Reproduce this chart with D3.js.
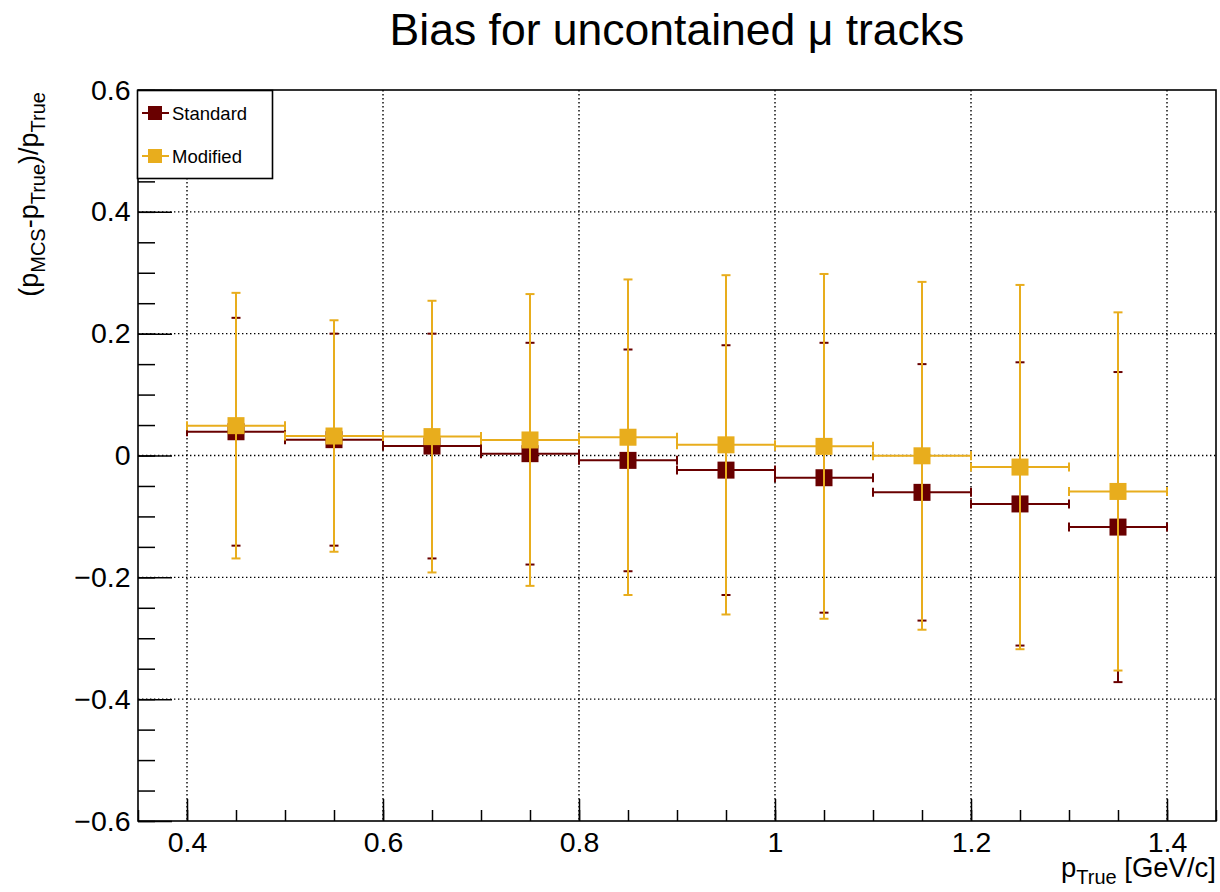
<!DOCTYPE html>
<html>
<head>
<meta charset="utf-8">
<script src="https://cdn.jsdelivr.net/npm/d3@7"></script>
<style>
  html, body { margin: 0; padding: 0; background: #fff; }
  svg { display: block; font-family: "Liberation Sans", Arial, Helvetica, sans-serif; }
</style>
</head>
<body>
<svg id="chart" width="1220" height="892"></svg>
<script>
// Momentum bins (GeV/c)
const binEdges = [0.4, 0.5, 0.6, 0.7, 0.8, 0.9, 1.0, 1.1, 1.2, 1.3, 1.4];

// Mean relative bias and its spread per bin
const standardBias = [0.039, 0.026, 0.0155, 0.003, -0.008, -0.024, -0.0365, -0.0605, -0.0795, -0.1175];
const standardErr  = [0.187, 0.174, 0.1845, 0.182, 0.182, 0.205, 0.2215, 0.2105, 0.2325, 0.2545];
const modifiedBias = [0.049, 0.032, 0.031, 0.0255, 0.030, 0.0175, 0.015, -0.0005, -0.019, -0.059];
const modifiedErr  = [0.218, 0.190, 0.223, 0.2395, 0.259, 0.2785, 0.283, 0.2855, 0.299, 0.294];

const seriesNames = ["Standard", "Modified"];

// Axis ticks and their labels
const xMajorTicks = [0.4, 0.6, 0.8, 1.0, 1.2, 1.4];
const xTickLabels = ["0.4", "0.6", "0.8", "1", "1.2", "1.4"];
const yMajorTicks = [-0.6, -0.4, -0.2, 0, 0.2, 0.4, 0.6];
const yTickLabels = ["\u22120.6", "\u22120.4", "\u22120.2", "0", "0.2", "0.4", "0.6"];

const colors = { Standard: "#690000", Modified: "#e8ad1d" };

const svg = d3.select("#chart");
const frame = { left: 138, right: 1216, top: 90, bottom: 821 };

const x = d3.scaleLinear().domain([0.35, 1.45]).range([frame.left, frame.right]);
const y = d3.scaleLinear().domain([-0.6, 0.6]).range([frame.bottom, frame.top]);

const xMinor = d3.range(0.35, 1.4501, 0.05).map(v => +v.toFixed(2));
const yMinor = d3.range(-0.6, 0.6001, 0.05).map(v => +v.toFixed(2));

// Title
svg.append("text")
  .attr("x", (frame.left + frame.right) / 2)
  .attr("y", 45)
  .attr("text-anchor", "middle")
  .attr("font-size", 44.5)
  .text("Bias for uncontained \u03bc tracks");

// Dotted grid at major ticks
const grid = svg.append("g").attr("stroke", "#000").attr("stroke-width", 1.4)
  .attr("stroke-dasharray", "1.4,2.6");
grid.selectAll(".gx").data(xMajorTicks).join("line")
  .attr("x1", d => x(d)).attr("x2", d => x(d))
  .attr("y1", frame.top).attr("y2", frame.bottom);
grid.selectAll(".gy").data(yMajorTicks.filter(d => d > -0.6 && d < 0.6)).join("line")
  .attr("x1", frame.left).attr("x2", frame.right)
  .attr("y1", d => y(d)).attr("y2", d => y(d));

// Axes: ticks point inward, minor ticks shorter
const axStyle = g => {
  g.select(".domain").remove();
  g.selectAll(".tick line").attr("stroke", "#000").attr("stroke-width", 1.5);
  g.selectAll(".tick text").attr("fill", "#000").attr("font-size", 28.5)
    .attr("font-family", "'Liberation Sans', Arial, Helvetica, sans-serif");
};

svg.append("g").attr("transform", `translate(0,${frame.bottom})`)
  .call(d3.axisBottom(x).tickValues(xMinor.filter(v => v >= 0.35 && v <= 1.45)).tickSize(-11).tickFormat(""))
  .call(axStyle);
svg.append("g").attr("transform", `translate(0,${frame.bottom})`)
  .call(d3.axisBottom(x).tickValues(xMajorTicks).tickSize(-22).tickPadding(11)
    .tickFormat((d, i) => xTickLabels[i]))
  .call(axStyle);

svg.append("g").attr("transform", `translate(${frame.left},0)`)
  .call(d3.axisLeft(y).tickValues(yMinor).tickSize(-17).tickFormat(""))
  .call(axStyle);
svg.append("g").attr("transform", `translate(${frame.left},0)`)
  .call(d3.axisLeft(y).tickValues(yMajorTicks).tickSize(-34).tickPadding(7.5)
    .tickFormat((d, i) => yTickLabels[i]))
  .call(axStyle);

// Frame
svg.append("rect")
  .attr("x", frame.left).attr("y", frame.top)
  .attr("width", frame.right - frame.left).attr("height", frame.bottom - frame.top)
  .attr("fill", "none").attr("stroke", "#000").attr("stroke-width", 1.6);

// Axis titles
const xTitle = svg.append("text")
  .attr("x", frame.right).attr("y", 877)
  .attr("text-anchor", "end").attr("font-size", 27.5);
xTitle.append("tspan").text("p");
xTitle.append("tspan").attr("font-size", 20).attr("dy", 7).text("True");
xTitle.append("tspan").attr("dy", -7).text(" [GeV/c]");

const yTitle = svg.append("text")
  .attr("transform", `translate(38,${frame.top + 2}) rotate(-90)`)
  .attr("text-anchor", "end").attr("font-size", 27);
yTitle.append("tspan").text("(p");
yTitle.append("tspan").attr("font-size", 20).attr("dy", 7).text("MCS");
yTitle.append("tspan").attr("dy", -7).text("-p");
yTitle.append("tspan").attr("font-size", 20).attr("dy", 7).text("True");
yTitle.append("tspan").attr("dy", -7).text(")/p");
yTitle.append("tspan").attr("font-size", 20).attr("dy", 7).text("True");

// Data series: horizontal bin-width bars, vertical error bars with caps, square markers
const seriesData = [
  { name: "Standard", bias: standardBias, err: standardErr },
  { name: "Modified", bias: modifiedBias, err: modifiedErr }
];

const markerSize = 17;
const capHalf = 4.5;

seriesData.forEach(s => {
  const c = colors[s.name];
  const pts = s.bias.map((v, i) => ({
    lo: binEdges[i], hi: binEdges[i + 1], xc: (binEdges[i] + binEdges[i + 1]) / 2, v, e: s.err[i]
  }));
  const g = svg.append("g").attr("stroke", c).attr("stroke-width", 2).attr("fill", "none");
  pts.forEach(p => {
    const cx = x(p.xc), cy = y(p.v);
    // horizontal bar across the bin
    g.append("line").attr("x1", x(p.lo)).attr("x2", x(p.hi)).attr("y1", cy).attr("y2", cy);
    g.append("line").attr("x1", x(p.lo)).attr("x2", x(p.lo)).attr("y1", cy - capHalf).attr("y2", cy + capHalf);
    g.append("line").attr("x1", x(p.hi)).attr("x2", x(p.hi)).attr("y1", cy - capHalf).attr("y2", cy + capHalf);
    // vertical error bar
    const yt = y(p.v + p.e), yb = y(p.v - p.e);
    g.append("line").attr("x1", cx).attr("x2", cx).attr("y1", yt).attr("y2", yb);
    g.append("line").attr("x1", cx - capHalf).attr("x2", cx + capHalf).attr("y1", yt).attr("y2", yt);
    g.append("line").attr("x1", cx - capHalf).attr("x2", cx + capHalf).attr("y1", yb).attr("y2", yb);
  });
  svg.append("g").selectAll("rect").data(pts).join("rect")
    .attr("x", d => x(d.xc) - markerSize / 2)
    .attr("y", d => y(d.v) - markerSize / 2)
    .attr("width", markerSize).attr("height", markerSize)
    .attr("fill", c);
});

// Legend
const legend = svg.append("g");
legend.append("rect")
  .attr("x", 137.5).attr("y", 90.5).attr("width", 135).attr("height", 88)
  .attr("fill", "#fff").attr("stroke", "#000").attr("stroke-width", 1.6);
seriesNames.forEach((name, i) => {
  const ly = 113 + i * 43;
  const c = colors[name];
  legend.append("line").attr("x1", 142).attr("x2", 169).attr("y1", ly).attr("y2", ly)
    .attr("stroke", c).attr("stroke-width", 2);
  legend.append("rect").attr("x", 148).attr("y", ly - 7).attr("width", 14).attr("height", 14).attr("fill", c);
  legend.append("text").attr("x", 172).attr("y", ly + 6.5).attr("font-size", 18.5).text(name);
});
</script>
</body>
</html>
